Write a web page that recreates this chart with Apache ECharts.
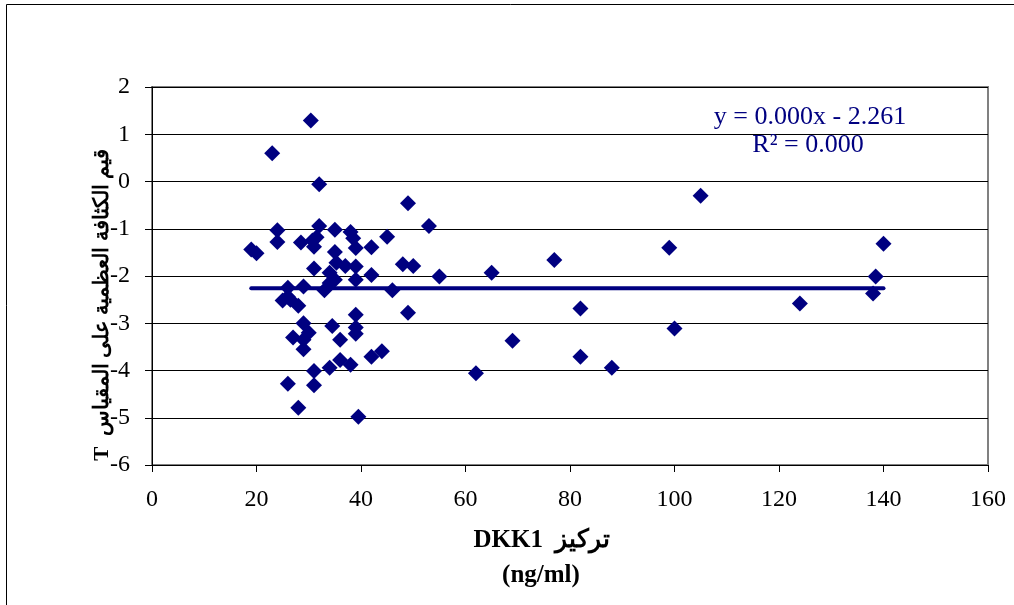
<!DOCTYPE html>
<html>
<head>
<meta charset="utf-8">
<script src="https://cdn.jsdelivr.net/npm/echarts@6/dist/echarts.min.js"></script>
<style>
  html, body { margin: 0; padding: 0; background: #fff; }
  #chart { width: 1014px; height: 605px; }
</style>
</head>
<body>
<div id="chart"></div>
<script>
  // DKK1 concentration (ng/ml)
  var dkk1 = [19, 20, 23, 24, 24, 25, 26, 26, 26.5, 27, 26, 28, 28, 28.5, 29, 29, 30, 29, 29,
    30.4, 30.7, 31, 31.5, 31, 31, 31, 32, 32, 33, 34, 34, 34, 34.5, 35, 35, 35.3, 35, 36, 36,
    37, 38, 38, 38.5, 39, 39, 39, 39, 39, 39, 39.5, 42, 42, 42, 44, 45, 46, 48, 49, 49, 50,
    53, 55, 62, 65, 69, 77, 82, 82, 88, 99, 100, 105, 124, 138, 138.5, 140]
  // T-score
  var tScore = [-1.44, -1.52, 0.60, -1.03, -1.28, -2.52, -2.25, -2.44, -2.50, -3.30, -4.28, -2.63, -4.79, -1.29, -2.22, -3.00, -3.20, -3.35, -3.55,
    1.29, -1.25, -1.38, -1.18, -1.84, -4.01, -4.31, -0.06, -0.94, -2.30, -1.93, -2.15, -3.94, -3.06, -1.02, -1.49, -1.72, -2.08, -3.35, -3.78,
    -1.79, -1.07, -3.88, -1.20, -1.41, -1.80, -2.08, -2.82, -3.09, -3.22, -4.98, -1.39, -1.98, -3.71, -3.59, -1.17, -2.30, -1.75, -0.46, -2.78, -1.79,
    -0.94, -2.01, -4.06, -1.93, -3.37, -1.66, -2.69, -3.71, -3.94, -1.40, -3.11, -0.30, -2.58, -2.37, -2.01, -1.32]

  // 趋势线 y = 0.000x - 2.261
  var trendSlope = 0
  var trendIntercept = -2.261
  var trendX = [19, 140]
  var equationText = ['y = 0.000x - 2.261', 'R² = 0.000']

  var xTicks = { min: 0, max: 160, interval: 20 }
  var yTicks = { min: -6, max: 2, interval: 1 }

  var points = dkk1.map(function (x, i) { return [x, tScore[i]] })
  var trend = trendX.map(function (x) { return [x, trendSlope * x + trendIntercept] })

  var serif = '"Liberation Serif", "Times New Roman", serif'
  var navy = '#000080'

  var chart = echarts.init(document.getElementById('chart'))
  chart.setOption({
    animation: false,
    textStyle: { fontFamily: serif, color: '#000' },
    grid: {
      left: 152, right: 26, top: 87, bottom: 140,
      show: true,
      borderColor: '#808080',
      borderWidth: 2
    },
    xAxis: {
      type: 'value',
      min: xTicks.min, max: xTicks.max, interval: xTicks.interval,
      axisLine: { onZero: false, lineStyle: { color: '#000', width: 1 } },
      axisTick: { show: true, length: 7, lineStyle: { color: '#000' } },
      axisLabel: { fontSize: 24, color: '#000', fontFamily: serif, margin: 23 },
      splitLine: { show: false }
    },
    yAxis: {
      type: 'value',
      min: yTicks.min, max: yTicks.max, interval: yTicks.interval,
      axisLine: { show: true, onZero: false, lineStyle: { color: '#000', width: 1 } },
      axisTick: { show: true, length: 7, lineStyle: { color: '#000' } },
      axisLabel: { fontSize: 24, color: '#000', fontFamily: serif, margin: 22 },
      splitLine: { show: true, lineStyle: { color: '#000', width: 1 } }
    },
    graphic: [
      // outer frame
      {
        type: 'rect', left: 4, top: 2, z: 0,
        shape: { width: 1030, height: 640 },
        style: { fill: 'none', stroke: '#000', lineWidth: 1 }
      },
      {
        type: 'text', x: 810, y: 117, z: 10,
        style: { text: equationText[0], fill: navy, font: '26px ' + serif, align: 'center', verticalAlign: 'middle' }
      },
      {
        type: 'text', x: 808, y: 145, z: 10,
        style: { text: equationText[1], fill: navy, font: '26px ' + serif, align: 'center', verticalAlign: 'middle' }
      },
      // y axis title
      {
        type: 'text', x: 103, y: 305, rotation: Math.PI / 2, z: 10,
        style: { text: 'T  قيم الكثافة العظمية على المقياس', fill: '#000', font: 'bold 21px ' + serif, align: 'center', verticalAlign: 'middle' }
      },
      // x axis title
      {
        type: 'text', x: 542, y: 541, z: 10,
        style: { text: 'DKK1  تركيز', fill: '#000', font: 'bold 25px ' + serif, align: 'center', verticalAlign: 'middle' }
      },
      {
        type: 'text', x: 541, y: 576, z: 10,
        style: { text: '(ng/ml)', fill: '#000', font: 'bold 25px ' + serif, align: 'center', verticalAlign: 'middle' }
      }
    ],
    series: [
      {
        type: 'scatter',
        data: points,
        symbol: 'diamond',
        symbolSize: 16,
        itemStyle: { color: navy, opacity: 1 }
      },
      {
        type: 'line',
        data: trend,
        symbol: 'none',
        z: 3,
        lineStyle: { color: navy, width: 4, cap: 'round' }
      }
    ]
  })
</script>
</body>
</html>
